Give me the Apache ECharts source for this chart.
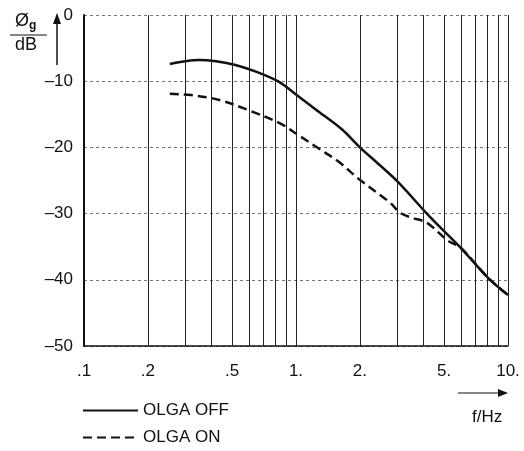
<!DOCTYPE html>
<html>
<head>
<meta charset="utf-8">
<script src="https://cdn.jsdelivr.net/npm/echarts@6/dist/echarts.min.js"></script>
<style>
  html, body { margin: 0; padding: 0; background: #fff; }
  #main { width: 524px; height: 451px; }
</style>
</head>
<body>
<div id="main"></div>
<script>
// values
const freqOff = [0.254, 0.30, 0.348, 0.42, 0.518, 0.652, 0.832, 1.0, 1.23, 1.65, 2.0, 2.39, 3.0, 4.09, 4.94, 6.0, 8.05, 10];
const dbOff = [-7.4, -7.0, -6.8, -7.0, -7.55, -8.6, -10.1, -12.0, -14.2, -17.3, -20.0, -22.2, -25.1, -29.8, -32.5, -35.2, -39.7, -42.3];
const freqOn = [0.254, 0.32, 0.43, 0.6, 0.845, 1.0, 1.27, 1.58, 2.0, 2.79, 3.1, 3.5, 4.15, 5.16, 6.0, 8.05, 10];
const dbOn = [-11.9, -12.1, -12.8, -14.4, -16.4, -17.9, -20.1, -22.1, -24.9, -28.4, -29.9, -30.6, -31.4, -34.0, -35.2, -39.7, -42.3];
const gridFreqs = [0.2, 0.3, 0.4, 0.5, 0.6, 0.7, 0.8, 0.9, 1, 2, 3, 4, 5, 6, 7, 8, 9, 10];
const xTickValues = [0.1, 0.2, 0.5, 1, 2, 5, 10];
const xTickLabels = ['.1', '.2', '.5', '1.', '2.', '5.', '10.'];
const seriesNames = ['OLGA OFF', 'OLGA ON'];

let myChart = echarts.init(document.getElementById('main'));
const font = 'Liberation Sans, Arial, sans-serif';

function pairs(xs, ys) {
    return xs.map((x, i) => [x, ys[i]]);
}

let option = {
    animation: false,
    grid: { left: 84, right: 16, top: 15, bottom: 105 },
    xAxis: {
        type: 'log',
        logBase: 10,
        min: 0.1,
        max: 10,
        axisLine: { show: true, onZero: false, lineStyle: { color: '#111', width: 1.5 } },
        axisTick: { show: false },
        splitLine: { show: false },
        axisLabel: {
            customValues: xTickValues,
            margin: 17,
            color: '#111',
            fontFamily: font,
            fontSize: 17,
            formatter: function (v) {
                let i = xTickValues.findIndex(t => Math.abs(t - v) < 1e-6);
                return i >= 0 ? xTickLabels[i] : '';
            }
        }
    },
    yAxis: {
        type: 'value',
        min: -50,
        max: 0,
        interval: 10,
        axisLine: { show: true, lineStyle: { color: '#111', width: 2 } },
        axisTick: { show: false },
        axisLabel: {
            margin: 11,
            color: '#111',
            fontFamily: font,
            fontSize: 17,
            formatter: v => v < 0 ? '\u2013' + Math.abs(v) : String(v)
        },
        splitLine: { show: true, lineStyle: { color: '#777', width: 1, type: [3, 3] } }
    },
    legend: {
        orient: 'vertical',
        left: 82,
        top: 402,
        padding: 0,
        itemWidth: 55,
        itemHeight: 14,
        itemGap: 10,
        itemStyle: { opacity: 0 },
        textStyle: { color: '#111', fontFamily: font, fontSize: 17 },
        data: seriesNames
    },
    series: [
        {
            name: seriesNames[0],
            type: 'line',
            smooth: 0.35,
            symbol: 'none',
            lineStyle: { color: '#111', width: 2.5 },
            itemStyle: { color: '#111' },
            data: pairs(freqOff, dbOff),
            markLine: {
                silent: true,
                symbol: 'none',
                label: { show: false },
                lineStyle: { color: '#222', width: 1, type: 'solid' },
                data: gridFreqs.map(f => ({ xAxis: f }))
            },
            z: 3
        },
        {
            name: seriesNames[1],
            type: 'line',
            smooth: 0.35,
            symbol: 'none',
            lineStyle: { color: '#111', width: 2.5, type: [9, 5] },
            itemStyle: { color: '#111' },
            data: pairs(freqOn, dbOn),
            z: 3
        }
    ],
    graphic: [
        // y axis title: Ø_g over dB
        {
            type: 'text', left: 15, top: 12,
            style: {
                text: '{a|\u00D8}{b|g}',
                rich: {
                    a: { fontFamily: font, fontSize: 18, fill: '#111' },
                    b: { fontFamily: font, fontSize: 12, fill: '#111', padding: [9, 0, 0, 0], fontWeight: 'bold' }
                }
            }
        },
        { type: 'line', shape: { x1: 10, y1: 35, x2: 47, y2: 35 }, style: { stroke: '#111', lineWidth: 1 } },
        { type: 'text', left: 15, top: 36, style: { text: 'dB', fontFamily: font, fontSize: 18, fill: '#111' } },
        // y arrow
        { type: 'line', shape: { x1: 57, y1: 65, x2: 57, y2: 22 }, style: { stroke: '#111', lineWidth: 1.5 } },
        { type: 'polygon', shape: { points: [[57, 13], [53, 24], [61, 24]] }, style: { fill: '#111' } },
        // x arrow and unit
        { type: 'line', shape: { x1: 458, y1: 393, x2: 500, y2: 393 }, style: { stroke: '#111', lineWidth: 1.2 } },
        { type: 'polygon', shape: { points: [[508, 393], [498, 389], [498, 397]] }, style: { fill: '#111' } },
        { type: 'text', left: 472, top: 409, style: { text: 'f/Hz', fontFamily: font, fontSize: 17, fill: '#111' } }
    ]
};
myChart.setOption(option);
</script>
</body>
</html>
